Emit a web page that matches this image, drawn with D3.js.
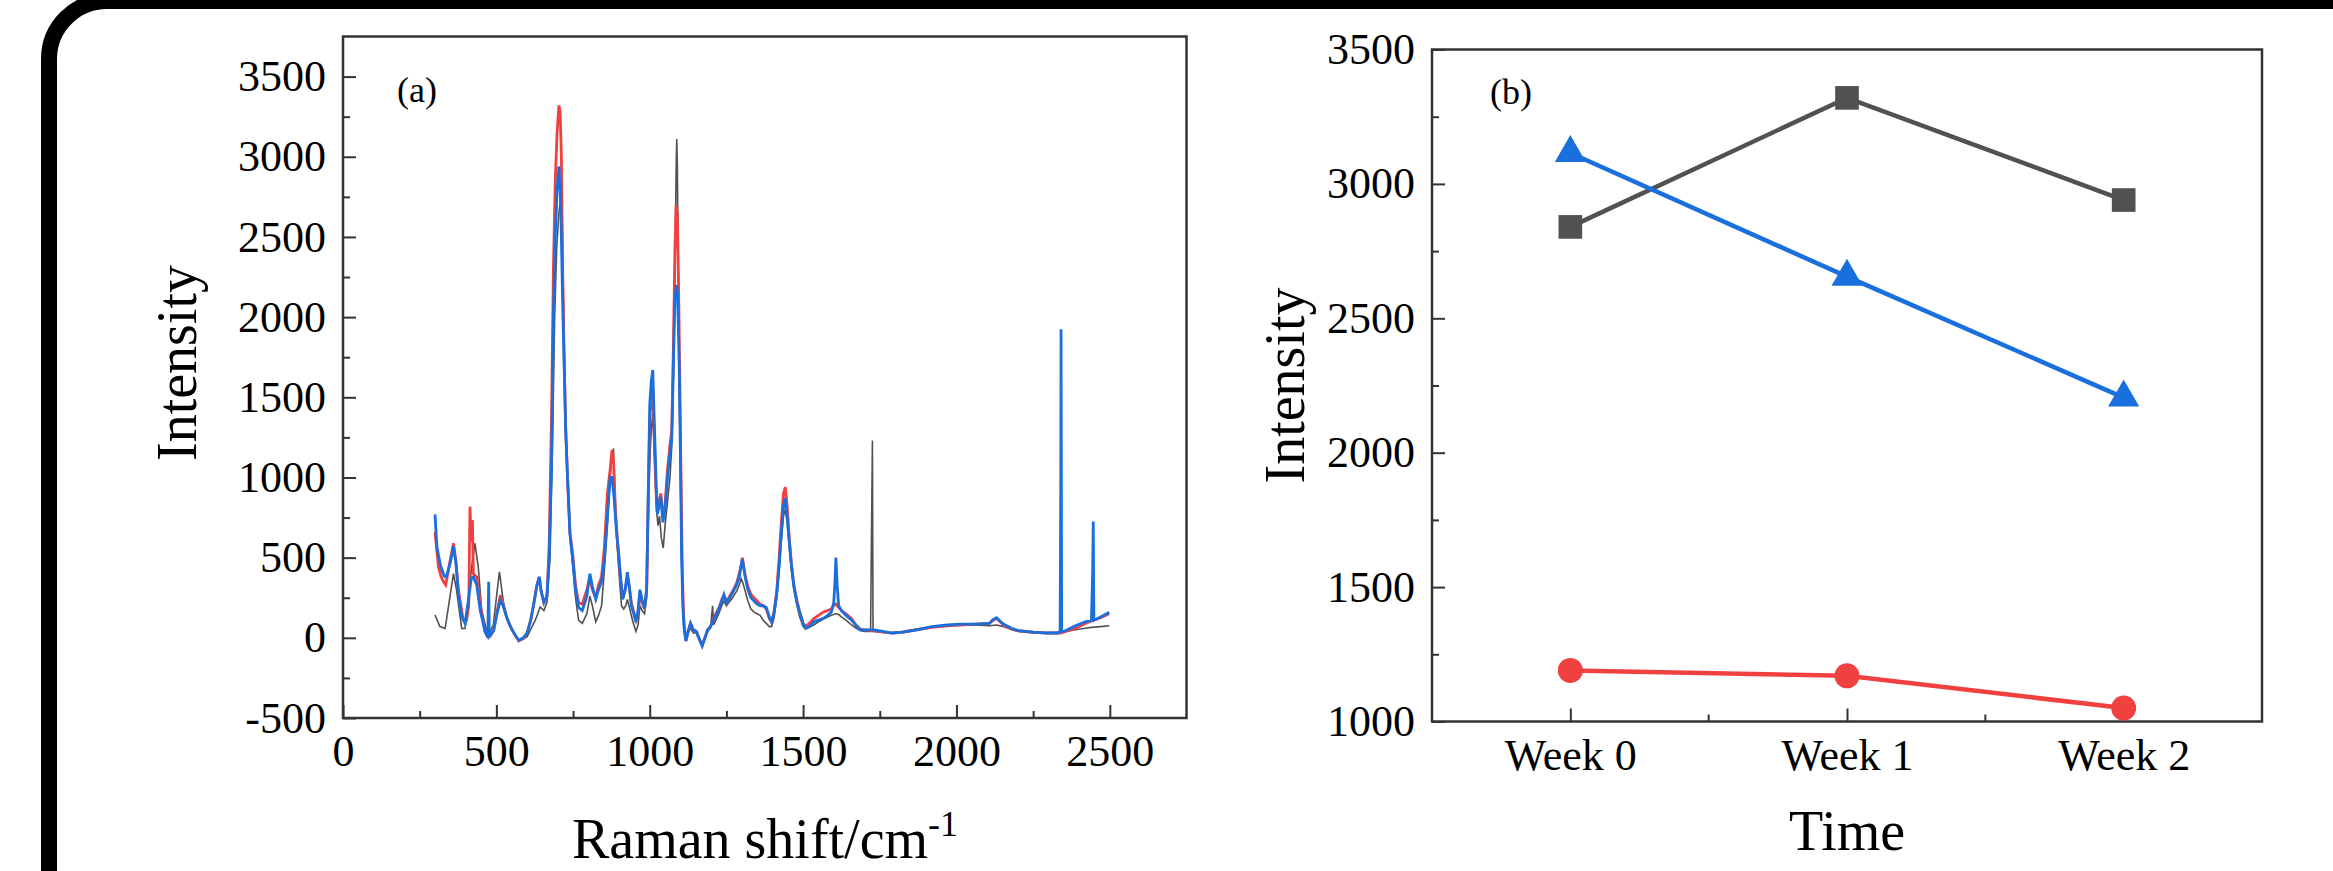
<!DOCTYPE html>
<html>
<head>
<meta charset="utf-8">
<script src="https://cdn.jsdelivr.net/npm/d3@7"></script>
<style>
  body { margin: 0; background: #fff; }
  text { font-family: "Liberation Serif", "Times New Roman", serif; fill: #000; }
</style>
</head>
<body>
<script>
// panel (a): Raman spectra, [shift, intensity]
const specBlack = [[300,142],[316,70],[333,58],[349,260],[360,400],[370,300],[387,58],[398,58],[408,235],[420,450],[430,589],[441,443],[452,172],[468,47],[480,40],[490,79],[500,250],[510,412],[522,235],[534,120],[546,69],[560,20],[573,-14],[588,-5],[600,6],[614,60],[627,110],[643,193],[655,170],[665,220],[675,500],[683,1200],[690,2000],[697,2450],[704,2650],[710,2750],[714,2700],[718,2200],[722,1700],[726,1300],[732,950],[740,620],[749,450],[758,250],[768,110],[780,90],[795,150],[805,260],[813,200],[824,100],[833,140],[843,200],[852,420],[862,700],[871,1000],[877,1150],[882,1180],[887,900],[893,600],[900,400],[908,200],[915,180],[922,200],[927,240],[935,180],[945,100],[955,40],[962,80],[968,200],[975,170],[983,150],[990,250],[995,700],[1000,1100],[1005,1300],[1010,1400],[1014,1200],[1018,1000],[1022,800],[1027,700],[1032,760],[1038,620],[1044,560],[1050,700],[1058,850],[1066,1000],[1072,1200],[1078,1700],[1083,2400],[1086,2900],[1088,3110],[1090,2950],[1093,2300],[1097,1500],[1101,900],[1105,400],[1109,150],[1114,40],[1118,-10],[1125,30],[1133,60],[1142,30],[1152,30],[1160,-10],[1171,-45],[1180,-5],[1189,40],[1198,60],[1205,200],[1208,80],[1218,120],[1227,160],[1235,200],[1242,230],[1250,200],[1258,220],[1270,250],[1283,290],[1292,330],[1298,370],[1304,340],[1310,300],[1320,230],[1330,180],[1340,160],[1350,150],[1360,140],[1370,110],[1380,90],[1390,70],[1397,70],[1405,120],[1414,250],[1422,420],[1429,600],[1436,760],[1442,800],[1448,720],[1455,560],[1462,420],[1470,300],[1480,200],[1489,130],[1500,70],[1508,55],[1520,65],[1535,80],[1550,100],[1565,115],[1580,130],[1592,140],[1605,150],[1616,145],[1625,130],[1640,110],[1658,80],[1672,60],[1686,45],[1700,40],[1720,40],[1726,1230],[1728,40],[1760,35],[1790,30],[1826,40],[1870,55],[1920,70],[1970,75],[2013,80],[2060,80],[2107,75],[2131,80],[2154,70],[2180,50],[2201,40],[2250,30],[2294,30],[2340,35],[2388,50],[2420,60],[2440,65],[2470,70],[2498,75]];

const specRed = [[300,660],[311,445],[320,380],[328,350],[335,330],[348,470],[360,590],[368,480],[376,300],[392,110],[403,110],[410,200],[414,818],[418,600],[422,735],[425,400],[436,380],[452,150],[463,40],[472,5],[480,10],[491,45],[502,160],[513,266],[522,210],[535,120],[546,70],[560,20],[573,-20],[588,-5],[600,30],[612,110],[622,210],[632,330],[640,380],[646,290],[655,220],[665,260],[672,560],[680,1400],[686,2300],[692,2850],[698,3150],[704,3320],[708,3280],[712,3000],[716,2300],[721,1750],[726,1300],[732,1000],[740,650],[749,520],[758,330],[768,220],[780,210],[795,300],[805,380],[813,300],[824,250],[833,330],[843,380],[852,560],[862,900],[871,1050],[877,1170],[882,1100],[888,800],[895,600],[903,400],[912,250],[920,300],[927,380],[933,320],[940,220],[948,160],[955,110],[962,160],[968,280],[975,220],[983,180],[990,300],[995,850],[1000,1350],[1005,1500],[1010,1550],[1014,1300],[1018,1050],[1022,850],[1025,780],[1030,850],[1036,900],[1043,760],[1050,830],[1058,1050],[1066,1200],[1072,1300],[1077,1800],[1082,2400],[1086,2700],[1090,2650],[1094,2200],[1098,1600],[1102,1000],[1106,450],[1110,150],[1114,40],[1118,-20],[1125,40],[1133,90],[1142,50],[1152,40],[1160,0],[1171,-50],[1180,0],[1189,50],[1198,70],[1208,120],[1218,160],[1227,190],[1235,240],[1242,260],[1250,230],[1258,250],[1270,290],[1283,340],[1292,400],[1298,450],[1302,500],[1307,440],[1312,380],[1320,320],[1330,270],[1340,250],[1350,230],[1360,210],[1370,200],[1380,180],[1390,120],[1397,100],[1405,160],[1414,290],[1422,500],[1429,720],[1436,900],[1442,940],[1448,820],[1455,620],[1462,460],[1470,330],[1480,230],[1489,160],[1500,90],[1508,70],[1520,90],[1535,120],[1550,140],[1565,160],[1580,170],[1592,180],[1600,200],[1607,210],[1616,190],[1625,170],[1640,150],[1658,120],[1672,80],[1686,55],[1700,50],[1732,45],[1760,35],[1790,30],[1826,35],[1870,50],[1920,65],[1970,75],[2013,80],[2060,85],[2107,90],[2120,110],[2131,120],[2142,100],[2154,80],[2180,55],[2201,45],[2250,35],[2294,30],[2340,30],[2388,60],[2420,90],[2440,105],[2470,125],[2498,150]];

const specBlue = [[300,770],[306,570],[318,450],[330,385],[337,380],[350,470],[360,570],[368,470],[376,280],[387,135],[398,90],[410,250],[418,370],[425,380],[436,330],[447,175],[463,40],[472,5],[475,350],[477,10],[491,45],[502,150],[513,235],[522,200],[535,120],[546,70],[560,20],[573,-15],[588,0],[600,30],[612,110],[622,215],[632,320],[640,380],[646,290],[655,220],[665,260],[672,500],[680,1100],[686,2000],[692,2500],[698,2800],[704,2940],[710,2700],[716,2100],[721,1700],[726,1300],[732,1000],[740,650],[749,490],[758,300],[768,190],[780,170],[795,260],[805,400],[813,320],[824,240],[833,300],[843,350],[852,490],[862,760],[871,1000],[877,1000],[884,870],[892,650],[899,520],[906,350],[912,240],[920,300],[927,410],[933,330],[940,200],[948,150],[955,100],[962,170],[968,300],[975,240],[983,185],[990,300],[995,880],[1000,1450],[1005,1600],[1010,1670],[1014,1400],[1018,1150],[1022,900],[1025,770],[1030,820],[1036,880],[1043,720],[1050,800],[1058,1000],[1066,1150],[1072,1250],[1077,1700],[1082,2100],[1087,2200],[1091,2150],[1096,1700],[1100,1150],[1104,500],[1108,200],[1112,60],[1118,-20],[1125,40],[1133,90],[1142,50],[1152,40],[1160,0],[1171,-50],[1180,0],[1189,50],[1198,70],[1208,110],[1218,150],[1227,190],[1235,230],[1242,270],[1250,220],[1258,240],[1270,280],[1283,330],[1292,380],[1298,450],[1302,490],[1307,430],[1312,370],[1320,300],[1330,250],[1340,230],[1350,210],[1360,200],[1370,200],[1380,190],[1390,130],[1397,100],[1405,150],[1414,270],[1422,450],[1429,660],[1436,820],[1442,870],[1448,760],[1455,600],[1462,450],[1470,320],[1480,220],[1489,160],[1500,90],[1508,60],[1520,70],[1535,100],[1550,110],[1565,120],[1580,140],[1592,160],[1600,220],[1604,350],[1607,500],[1611,330],[1616,200],[1625,170],[1640,140],[1658,110],[1672,80],[1686,50],[1700,50],[1732,50],[1760,40],[1790,30],[1826,35],[1870,50],[1920,70],[1970,80],[2013,85],[2060,85],[2107,90],[2120,115],[2131,125],[2142,105],[2154,85],[2180,60],[2201,45],[2250,35],[2294,30],[2330,30],[2338,40],[2340,920],[2341,1925],[2343,40],[2350,40],[2388,75],[2420,100],[2440,110],[2444,400],[2446,725],[2448,110],[2470,130],[2498,160]];

// panel (b): peak intensity over time
const weeks = ["Week 0", "Week 1", "Week 2"];
const grayVals = [2840, 3320, 2940];
const redVals = [1190, 1170, 1050];
const blueVals = [3115, 2655, 2205];

const xTicksA = [0, 500, 1000, 1500, 2000, 2500];
const yTicksA = [-500, 0, 500, 1000, 1500, 2000, 2500, 3000, 3500];
const yTicksB = [1000, 1500, 2000, 2500, 3000, 3500];

const gray = "#515151", red = "#F14040", blue = "#1A6FDF";
const axisColor = "#333";

const width = 2333, height = 871;

const svg = d3.select("body")
    .append("svg")
    .attr("width", width)
    .attr("height", height);

svg.append("rect").attr("width", width).attr("height", height).attr("fill", "#fff");

// black rounded frame around the figure
svg.append("rect")
    .attr("x", 49).attr("y", 1)
    .attr("width", 5000).attr("height", 5000)
    .attr("rx", 58).attr("ry", 58)
    .attr("fill", "none")
    .attr("stroke", "#000")
    .attr("stroke-width", 16);

// plain hyphen for negatives, as in the original
const fmt = d => String(d);

function styleAxis(g) {
    g.select(".domain").remove();
    g.selectAll(".tick line").attr("stroke", axisColor).attr("stroke-width", 2);
    g.selectAll(".tick text").attr("font-size", 44).attr("fill", "#000")
        .attr("font-family", "'Liberation Serif', 'Times New Roman', serif");
}

// ---------- panel (a) ----------
const xA = d3.scaleLinear().domain([0, 2750]).range([343, 1186.5]);
const yA = d3.scaleLinear().domain([-500, 3750]).range([718, 36.5]);

const gA = svg.append("g");

const lineA = d3.line().x(d => xA(d[0])).y(d => yA(d[1]));

gA.append("path").datum(specBlack)
    .attr("d", lineA).attr("fill", "none")
    .attr("stroke", gray).attr("stroke-width", 1.6);
gA.append("path").datum(specRed)
    .attr("d", lineA).attr("fill", "none")
    .attr("stroke", red).attr("stroke-width", 2.8);
gA.append("path").datum(specBlue)
    .attr("d", lineA).attr("fill", "none")
    .attr("stroke", blue).attr("stroke-width", 2.8);

gA.append("g")
    .attr("transform", `translate(0,${yA(-500)})`)
    .call(d3.axisBottom(xA).tickValues(d3.range(250, 2750, 500)).tickSize(-7).tickFormat(""))
    .call(styleAxis);
gA.append("g")
    .attr("transform", `translate(0,${yA(-500)})`)
    .call(d3.axisBottom(xA).tickValues(xTicksA).tickSize(-13).tickPadding(17).tickFormat(fmt))
    .call(styleAxis);
gA.append("g")
    .attr("transform", `translate(${xA(0)},0)`)
    .call(d3.axisLeft(yA).tickValues(d3.range(-250, 3750, 500)).tickSize(-7).tickFormat(""))
    .call(styleAxis);
gA.append("g")
    .attr("transform", `translate(${xA(0)},0)`)
    .call(d3.axisLeft(yA).tickValues(yTicksA).tickSize(-13).tickPadding(17).tickFormat(fmt))
    .call(styleAxis);

gA.append("rect")
    .attr("x", xA(0)).attr("y", yA(3750))
    .attr("width", xA(2750) - xA(0)).attr("height", yA(-500) - yA(3750))
    .attr("fill", "none").attr("stroke", axisColor).attr("stroke-width", 2.5);

gA.append("text").attr("x", 397).attr("y", 102)
    .attr("font-size", 36).text("(a)");

gA.append("text")
    .attr("transform", "translate(196,363) rotate(-90)")
    .attr("text-anchor", "middle")
    .attr("font-size", 56)
    .text("Intensity");

const xTitleA = gA.append("text")
    .attr("x", 765).attr("y", 858)
    .attr("text-anchor", "middle")
    .attr("font-size", 56);
xTitleA.append("tspan").text("Raman shift/cm");
xTitleA.append("tspan").attr("font-size", 36).attr("dy", -22).text("-1");

// ---------- panel (b) ----------
const xB = d3.scalePoint().domain(weeks).range([1432, 2262]).padding(0.5);
const yB = d3.scaleLinear().domain([1000, 3500]).range([721.5, 49.5]);

const gB = svg.append("g");

gB.append("g")
    .attr("transform", `translate(0,${yB(1000)})`)
    .call(d3.axisBottom(xB).tickSize(-13).tickPadding(17))
    .call(styleAxis);
// minor ticks halfway between the weeks
gB.selectAll(".minor-x")
    .data(weeks.slice(1))
    .enter()
    .append("line")
    .attr("x1", d => xB(d) - xB.step() / 2)
    .attr("x2", d => xB(d) - xB.step() / 2)
    .attr("y1", yB(1000))
    .attr("y2", yB(1000) - 7)
    .attr("stroke", axisColor).attr("stroke-width", 2);
gB.append("g")
    .attr("transform", `translate(1432,0)`)
    .call(d3.axisLeft(yB).tickValues(d3.range(1250, 3500, 500)).tickSize(-7).tickFormat(""))
    .call(styleAxis);
gB.append("g")
    .attr("transform", `translate(1432,0)`)
    .call(d3.axisLeft(yB).tickValues(yTicksB).tickSize(-13).tickPadding(17).tickFormat(fmt))
    .call(styleAxis);

gB.append("rect")
    .attr("x", 1432).attr("y", yB(3500))
    .attr("width", 2262 - 1432).attr("height", yB(1000) - yB(3500))
    .attr("fill", "none").attr("stroke", axisColor).attr("stroke-width", 2.5);

const seriesB = [
    { vals: grayVals, color: gray, symbol: d3.symbolSquare, size: 560 },
    { vals: redVals, color: red, symbol: d3.symbolCircle, size: 490 },
    { vals: blueVals, color: blue, symbol: d3.symbolTriangle, size: 420 }
];

const lineB = d3.line().x((d, i) => xB(weeks[i])).y(d => yB(d));

seriesB.forEach(s => {
    gB.append("path").datum(s.vals)
        .attr("d", lineB).attr("fill", "none")
        .attr("stroke", s.color).attr("stroke-width", 4.5);
    gB.selectAll(null)
        .data(s.vals)
        .enter()
        .append("path")
        .attr("transform", (d, i) => `translate(${xB(weeks[i])},${yB(d)})`)
        .attr("d", d3.symbol().type(s.symbol).size(s.size))
        .attr("fill", s.color);
});

gB.append("text").attr("x", 1490).attr("y", 104)
    .attr("font-size", 36).text("(b)");

gB.append("text")
    .attr("transform", "translate(1304,385.5) rotate(-90)")
    .attr("text-anchor", "middle")
    .attr("font-size", 56)
    .text("Intensity");

gB.append("text")
    .attr("x", 1847).attr("y", 850)
    .attr("text-anchor", "middle")
    .attr("font-size", 56)
    .text("Time");
</script>
</body>
</html>
